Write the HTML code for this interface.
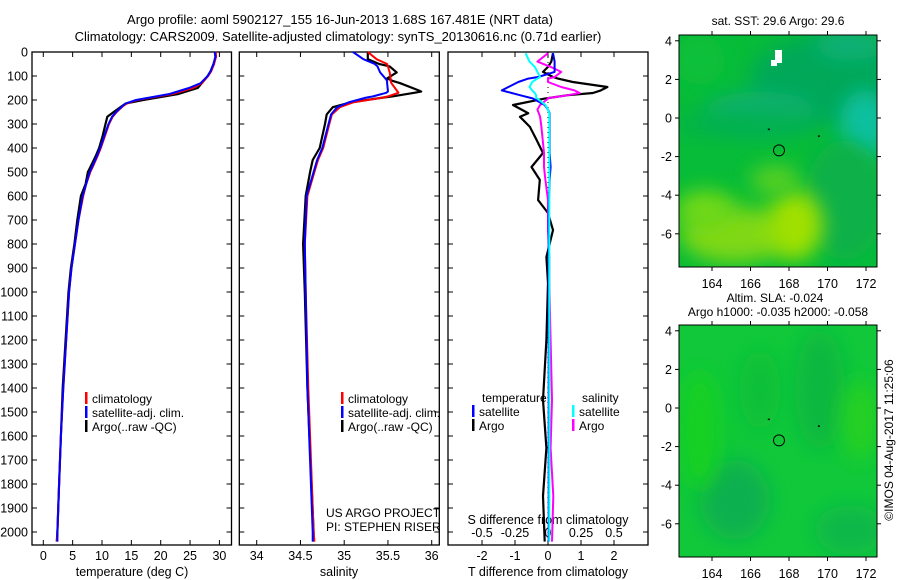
<!DOCTYPE html>
<html><head><meta charset="utf-8"><style>
body{margin:0;background:#fff;}
svg{display:block;font-family:"Liberation Sans",sans-serif;}
text{fill:#000;}
</style></head><body>
<svg id="chart" width="900" height="580" viewBox="0 0 900 580" xmlns="http://www.w3.org/2000/svg">
<defs>
<filter id="blur6" x="-50%" y="-50%" width="200%" height="200%"><feGaussianBlur stdDeviation="6"/></filter>
<filter id="blur10" x="-50%" y="-50%" width="200%" height="200%"><feGaussianBlur stdDeviation="10"/></filter>
<clipPath id="clipA"><rect x="679" y="35" width="198" height="232"/></clipPath>
<clipPath id="clipB"><rect x="679" y="325" width="198" height="232"/></clipPath>
</defs>
<text x="340" y="24" font-size="13" text-anchor="middle">Argo profile: aoml 5902127_155 16-Jun-2013 1.68S 167.481E (NRT data)</text>
<text x="338" y="41" font-size="13" text-anchor="middle">Climatology: CARS2009. Satellite-adjusted climatology: synTS_20130616.nc (0.71d earlier)</text>
<g id="plots"></g>
<g id="maps"></g>
</svg>
<script>
// ---- data ----
const tDepth = [0,20,50,80,100,130,150,175,200,215,225,250,270,300,350,400,430,480,500,550,600,700,800,900,1000,1200,1400,1600,1800,2000,2040];
const tArgo  = [29.3,29.4,29.0,28.5,28.0,27.0,26.3,23.0,17.0,14.0,13.4,12.0,10.9,10.6,10.1,9.5,9.0,8.0,7.6,7.2,6.4,5.8,5.3,4.7,4.3,3.8,3.3,3.0,2.7,2.4,2.3];
const tClim  = [29.4,29.4,29.1,28.6,28.1,27.0,25.5,22.0,16.0,14.2,13.6,12.5,11.8,11.2,10.5,9.8,9.3,8.4,8.0,7.3,6.8,6.0,5.4,4.8,4.4,3.9,3.4,3.0,2.7,2.4,2.3];
const tSat   = [29.2,29.3,29.0,28.5,28.0,26.8,24.8,21.5,15.8,14.0,13.5,12.4,11.7,11.1,10.4,9.7,9.2,8.3,7.9,7.3,6.7,6.0,5.4,4.8,4.4,3.9,3.4,3.0,2.7,2.4,2.4];
const sDepth = [0,30,50,60,85,110,120,130,160,165,170,185,190,210,230,260,300,400,450,500,600,800,1000,1400,2000,2040];
const sArgo  = [35.27,35.27,35.40,35.52,35.60,35.49,35.55,35.64,35.85,35.88,35.80,35.55,35.44,35.07,34.87,34.80,34.78,34.72,34.64,34.61,34.56,34.53,34.55,34.58,34.65,34.65];
const sClim  = [35.27,35.37,35.49,35.50,35.52,35.53,35.53,35.54,35.60,35.61,35.62,35.50,35.44,35.10,34.95,34.86,34.83,34.76,34.70,34.66,34.58,34.55,34.56,34.59,34.65,34.66];
const sSat   = [35.10,35.22,35.35,35.38,35.41,35.47,35.49,35.49,35.50,35.50,35.48,35.33,35.25,35.05,34.92,34.85,34.82,34.75,34.69,34.65,34.57,34.55,34.56,34.58,34.64,34.64];
const dDepth = [5,40,62,83,104,111,125,146,160,171,180,192,194,221,240,255,270,312,366,421,479,533,617,671,742,854,962,1200,1450,1650,1850,2040];
const dTArgo = [0.15,0.1,0.0,-0.15,0.15,0.3,0.75,1.8,1.6,1.36,0.6,0.0,-0.1,-1.06,-0.8,-0.6,-0.85,-0.55,-0.35,-0.15,-0.5,-0.25,-0.3,0.0,0.15,-0.05,0.0,-0.05,-0.15,-0.05,-0.15,-0.1];
const dTSat  = [0.15,0.2,0.2,0.2,-0.3,-0.6,-0.9,-1.2,-1.4,-1.1,-0.85,-0.5,-0.45,-0.1,0.0,0.05,0.05,0.05,0.05,0.05,0.08,0.05,0.03,0.02,0.02,0.02,0.02,0.02,0.02,0.02,0.02,0.02];
const dSSat  = [-0.17,-0.14,-0.1,-0.08,-0.06,-0.08,-0.12,-0.14,-0.12,-0.1,-0.09,-0.09,-0.08,-0.02,0.0,0.01,0.01,0.01,0.01,0.01,0.01,0.01,0.01,0.01,0.01,0.01,0.01,0.01,0.01,0.01,0.01,0.01];
const dSArgo = [0.0,-0.08,0.02,0.1,0.05,0.0,0.0,0.1,0.2,0.24,0.15,0.0,0.0,-0.06,-0.08,-0.07,-0.06,-0.05,-0.04,-0.03,-0.03,-0.02,0.0,0.0,0.0,0.01,0.01,0.02,0.03,0.02,0.04,0.03];
const depthTicks = [0,100,200,300,400,500,600,700,800,900,1000,1100,1200,1300,1400,1500,1600,1700,1800,1900,2000];
const tempTicks = [0,5,10,15,20,25,30];
const salTicks = ["34","34.5","35","35.5","36"];
const dTTicks = [-2,-1,0,1,2];
const dSTickLabels = ["-0.5","-0.25","0","0.25","0.5"];
const dSTickVals = [-0.5,-0.25,0,0.25,0.5];
const lonTicks = [164,166,168,170,172];
const latTicks = [4,2,0,-2,-4,-6];

// ---- scales ----
const NS="http://www.w3.org/2000/svg";
const yD = d => 52 + d*0.24;
const xT = t => 43.3 + t*5.87;
const xS = s => 256.7 + (s-34)*87.5;
const xDT = v => 548 + v*33;
const xDS = v => 548 + v*132;
const xLon = l => 712 + (l-164)*19.25;
const yLat = l => 118 - l*19.3;
const yLat2 = l => 408 - l*19.3;

function mk(tag, attrs, parent){const e=document.createElementNS(NS,tag);for(const k in attrs)e.setAttribute(k,attrs[k]);parent.appendChild(e);return e;}
const G=document.getElementById('plots');
const M=document.getElementById('maps');

function panel(x0,x1,name){
  const r=mk('rect',{x:x0,y:52,width:x1-x0,height:493,fill:'none',stroke:'#000','stroke-width':1.3},G);
  
  
}
panel(32,231.5,'temperature-panel');
panel(239.3,439.3,'salinity-panel');
panel(448,648,'difference-panel');

depthTicks.forEach(d=>{
  const y=yD(d);
  [[32,1],[231.5,-1],[239.3,1],[439.3,-1],[448,1],[648,-1]].forEach(([x,s])=>mk('line',{x1:x,x2:x+s*5,y1:y,y2:y,stroke:'#000'},G));
  const t=mk('text',{x:28,y:y+4.5,'font-size':12.5,'text-anchor':'end'},G);
  t.textContent=d;
  
  
});
function xticks(vals,labels,fx,name){
  vals.forEach((v,i)=>{
    const x=fx(v);
    mk('line',{x1:x,x2:x,y1:545,y2:540,stroke:'#000'},G);
    mk('line',{x1:x,x2:x,y1:52,y2:57,stroke:'#000'},G);
    const t=mk('text',{x:x,y:560,'font-size':12.5,'text-anchor':'middle'},G);
    t.textContent=labels[i];
    
    
  });
}
xticks(tempTicks,tempTicks,xT,'temperature-tick-label');
xticks(salTicks.map(Number),salTicks,xS,'salinity-tick-label');
xticks(dTTicks,dTTicks,xDT,'t-diff-tick-label');
dSTickVals.forEach((v,i)=>{
  const t=mk('text',{x:xDS(v),y:537,'font-size':12.5,'text-anchor':'middle'},G);
  t.textContent=dSTickLabels[i];
  
  
});
mk('line',{x1:548,x2:548,y1:52,y2:545,stroke:'#000','stroke-dasharray':'1,4'},G);

function axisLabel(x,y,txt,name){const t=mk('text',{x:x,y:y,'font-size':12.5,'text-anchor':'middle'},G);t.textContent=txt;}
axisLabel(132,576,'temperature (deg C)','temperature-axis-title');
axisLabel(339,576,'salinity','salinity-axis-title');
axisLabel(548,576,'T difference from climatology','t-diff-axis-title');
axisLabel(548,524,'S difference from climatology','s-diff-axis-title');

function line(depths,vals,fx,color,name,w){
  const pts=depths.map((d,i)=>fx(vals[i]).toFixed(1)+','+yD(d).toFixed(1)).join(' ');
  const p=mk('polyline',{points:pts,fill:'none',stroke:color,'stroke-width':w||2,'stroke-linejoin':'round'},G);
  
  
}
line(tDepth,tArgo,xT,'#000','temp-argo-line',2.2);
line(tDepth,tClim,xT,'#f00','temp-climatology-line');
line(tDepth,tSat,xT,'#00f','temp-satellite-line');
line(sDepth,sArgo,xS,'#000','sal-argo-line',2.2);
line(sDepth,sClim,xS,'#f00','sal-climatology-line');
line(sDepth,sSat,xS,'#00f','sal-satellite-line');
line(dDepth,dTArgo,xDT,'#000','tdiff-argo-line',2.2);
line(dDepth,dSArgo,xDS,'#f0f','sdiff-argo-line');
line(dDepth,dTSat,xDT,'#00f','tdiff-satellite-line');
line(dDepth,dSSat,xDS,'#0ff','sdiff-satellite-line');

function legend(x,y,color,txt,name){
  if(color) mk('rect',{x:x,y:y-11,width:2.5,height:12,fill:color},G);
  const t=mk('text',{x:x+7,y:y,'font-size':12},G);
  t.textContent=txt;
  
  
}
legend(85,403,'#f00','climatology','legend-climatology');
legend(85,417,'#00f','satellite-adj. clim.','legend-satellite-adj');
legend(85,431,'#000','Argo(..raw -QC)','legend-argo');
legend(341,403,'#f00','climatology','legend-climatology-2');
legend(341,417,'#00f','satellite-adj. clim.','legend-satellite-adj-2');
legend(341,431,'#000','Argo(..raw -QC)','legend-argo-2');
legend(475,402,null,'temperature','legend-temperature-header');
legend(472,416,'#00f','satellite','legend-t-satellite');
legend(472,430,'#000','Argo','legend-t-argo');
legend(575,402,null,'salinity','legend-salinity-header');
legend(572,416,'#0ff','satellite','legend-s-satellite');
legend(572,430,'#f0f','Argo','legend-s-argo');
const c1=mk('text',{x:326,y:517,'font-size':12},G);c1.textContent='US ARGO PROJECT';


const c2=mk('text',{x:326,y:531,'font-size':12},G);c2.textContent='PI: STEPHEN RISER';



// ---- maps ----
function mapFrame(y0,yl,clip,blobs,base,name){
  const g=mk('g',{'clip-path':'url(#'+clip+')'},M);
  mk('rect',{x:679,y:y0,width:198,height:232,fill:base},g);
  blobs.forEach(b=>mk('ellipse',{cx:b[0],cy:b[1],rx:b[2],ry:b[3],fill:b[4],filter:'url(#'+(b[5]||'blur10')+')'},g));
  const fr=mk('rect',{x:679,y:y0,width:198,height:232,fill:'none',stroke:'#000'},M);
  
  
  lonTicks.forEach(l=>{
    const x=xLon(l);
    mk('line',{x1:x,x2:x,y1:y0,y2:y0-4,stroke:'#000'},M);
    mk('line',{x1:x,x2:x,y1:y0+232,y2:y0+236,stroke:'#000'},M);
    const t=mk('text',{x:x,y:y0+253,'font-size':12.5,'text-anchor':'middle'},M);t.textContent=l;
    
    
  });
  latTicks.forEach(l=>{
    const y=yl(l);
    mk('line',{x1:679,x2:675,y1:y,y2:y,stroke:'#000'},M);
    mk('line',{x1:877,x2:881,y1:y,y2:y,stroke:'#000'},M);
    const t=mk('text',{x:672,y:y+4.5,'font-size':12.5,'text-anchor':'end'},M);t.textContent=l;
    
    
  });
  const ci=mk('circle',{cx:xLon(167.48),cy:yl(-1.68),r:5.5,fill:'none',stroke:'#000'},M);
  
  
  mk('rect',{x:xLon(166.9),y:yl(-0.55),width:2,height:1.5,fill:'#000'},M);
  mk('rect',{x:xLon(169.5),y:yl(-0.9),width:2,height:1.5,fill:'#000'},M);
}
mapFrame(35,yLat,'clipA',[
  [830,80,80,45,'#00a858'],[760,110,55,18,'#10b070'],[865,125,25,35,'#10c0a0'],[850,45,35,15,'#10b078'],
  [745,125,70,12,'#00b050'],[845,200,40,60,'#08b048'],
  [735,235,55,28,'#80d818'],[795,225,28,35,'#a0e000'],[705,210,30,20,'#70d818'],[775,180,25,15,'#58d020'],
  [700,60,25,25,'#08c03a']
],'#06bc38','sst-map');
mk('rect',{x:775,y:50,width:7,height:13,fill:'#fff'},M);
mk('rect',{x:771,y:60,width:6,height:6,fill:'#fff'},M);
mapFrame(325,yLat2,'clipB',[
  [820,390,25,60,'#08b840'],[735,500,35,40,'#10b050'],[760,390,20,40,'#10c038'],[850,530,35,25,'#08b848'],
  [860,420,18,40,'#28d020'],[700,430,20,60,'#18d020']
],'#10c83a','sla-map');

function mtxt(x,y,txt,name){const t=mk('text',{x:x,y:y,'font-size':12,'text-anchor':'middle'},M);t.textContent=txt;}
mtxt(778,25,'sat. SST: 29.6 Argo: 29.6','sst-map-title');
mtxt(775,302,'Altim. SLA: -0.024','sla-map-title');
mtxt(778,316,'Argo h1000: -0.035 h2000: -0.058','sla-map-subtitle');
const cr=mk('text',{x:0,y:0,'font-size':12,'text-anchor':'middle',transform:'translate(893,440) rotate(-90)'},M);
cr.textContent='©IMOS 04-Aug-2017 11:25:06';


</script>
</body></html>
